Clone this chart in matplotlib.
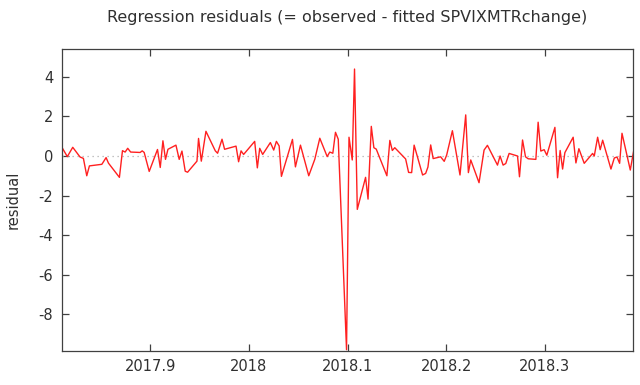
import matplotlib
matplotlib.use("Agg")
import matplotlib.pyplot as plt

plt.rcParams['axes.unicode_minus'] = False

# residuals (date as decimal year)
dates = [
    2017.8104, 2017.8160, 2017.8215, 2017.8289, 2017.8323, 2017.8357, 2017.8384,
    2017.8510, 2017.8553, 2017.8577, 2017.8688, 2017.8719, 2017.8746, 2017.8772,
    2017.8802, 2017.8898, 2017.8919, 2017.8939, 2017.8990, 2017.9074, 2017.9102,
    2017.9129, 2017.9155, 2017.9180, 2017.9261, 2017.9294, 2017.9322, 2017.9355,
    2017.9379, 2017.9474, 2017.9490, 2017.9518, 2017.9565, 2017.9660, 2017.9683,
    2017.9728, 2017.9754, 2017.9870, 2017.9896, 2017.9921, 2017.9947, 2018.0059,
    2018.0086, 2018.0110, 2018.0140, 2018.0218, 2018.0252, 2018.0279, 2018.0307,
    2018.0330, 2018.0442, 2018.0472, 2018.0523, 2018.0607, 2018.0668, 2018.0719,
    2018.0794, 2018.0820, 2018.0851, 2018.0878, 2018.0906, 2018.0990, 2018.1015,
    2018.1048, 2018.1071, 2018.1099, 2018.1183, 2018.1208, 2018.1241, 2018.1267,
    2018.1291, 2018.1399, 2018.1429, 2018.1454, 2018.1479, 2018.1589, 2018.1619,
    2018.1650, 2018.1675, 2018.1761, 2018.1792, 2018.1815, 2018.1843, 2018.1868,
    2018.1944, 2018.1980, 2018.2005, 2018.2063, 2018.2140, 2018.2198, 2018.2225,
    2018.2249, 2018.2333, 2018.2384, 2018.2418, 2018.2520, 2018.2546, 2018.2577,
    2018.2604, 2018.2638, 2018.2723, 2018.2743, 2018.2774, 2018.2804, 2018.2831,
    2018.2909, 2018.2932, 2018.2959, 2018.2993, 2018.3020, 2018.3102, 2018.3129,
    2018.3155, 2018.3180, 2018.3203, 2018.3287, 2018.3315, 2018.3345, 2018.3399,
    2018.3484, 2018.3501, 2018.3535, 2018.3561, 2018.3586, 2018.3670, 2018.3704,
    2018.3731, 2018.3758, 2018.3782, 2018.3866, 2018.3900,
]
residual = [
    0.45, -0.03, 0.44, -0.05, -0.12, -1.00, -0.50,
    -0.42, -0.08, -0.36, -1.08, 0.27, 0.20, 0.39,
    0.20, 0.18, 0.26, 0.18, -0.78, 0.33, -0.58,
    0.77, -0.17, 0.34, 0.55, -0.17, 0.25, -0.77,
    -0.82, -0.26, 0.89, -0.26, 1.25, 0.26, 0.14,
    0.85, 0.34, 0.50, -0.29, 0.26, 0.08, 0.74,
    -0.60, 0.39, 0.08, 0.68, 0.30, 0.74, 0.51,
    -1.03, 0.84, -0.55, 0.55, -1.00, -0.17, 0.90,
    -0.03, 0.20, 0.14, 1.20, 0.85, -9.80, 0.95,
    -0.20, 4.40, -2.70, -1.08, -2.18, 1.50, 0.42,
    0.35, -1.00, 0.79, 0.28, 0.42, -0.15, -0.83,
    -0.84, 0.55, -0.96, -0.88, -0.56, 0.56, -0.13,
    -0.04, -0.27, 0.05, 1.28, -0.96, 2.08, -0.84,
    -0.20, -1.35, 0.30, 0.54, -0.46, 0.00, -0.46,
    -0.38, 0.13, 0.00, -1.05, 0.81, -0.04, -0.14,
    -0.17, 1.71, 0.25, 0.32, 0.04, 1.45, -1.10,
    0.28, -0.66, 0.17, 0.95, -0.35, 0.37, -0.37,
    0.13, 0.00, 0.95, 0.32, 0.80, -0.66, -0.10,
    -0.05, -0.37, 1.15, -0.71, 0.25,
]
xticks = [2017.9, 2018.0, 2018.1, 2018.2, 2018.3]
xticklabels = ["2017.9", "2018", "2018.1", "2018.2", "2018.3"]
yticks = [-8, -6, -4, -2, 0, 2, 4]

fig = plt.figure(figsize=(6.4, 3.85), dpi=100)
ax = fig.add_axes([0.0964, 0.0891, 0.8932, 0.7829])

ax.axhline(0, color='#b0b0b0', linestyle=(0, (1, 3)), linewidth=0.9)
ax.plot(dates, residual, color='#ff2020', linewidth=1.0)

ax.set_xlim(2017.8103, 2018.3897)
ax.set_ylim(-9.85, 5.4)
ax.set_xticks(xticks)
ax.set_xticklabels(xticklabels)
ax.set_yticks(yticks)
ax.tick_params(direction='in', top=True, right=True, length=5, width=0.9,
               labelsize=10.5, labelcolor='#303030', color='#404040', pad=6)
for s in ax.spines.values():
    s.set_color('#404040')
    s.set_linewidth(0.9)

ax.set_ylabel('residual', fontsize=10.5, color='#303030', labelpad=13)
fig.text(0.543, 0.975, 'Regression residuals (= observed - fitted SPVIXMTRchange)',
         fontsize=11.5, color='#303030', ha='center', va='top')

fig.savefig('out.png', dpi=100)
